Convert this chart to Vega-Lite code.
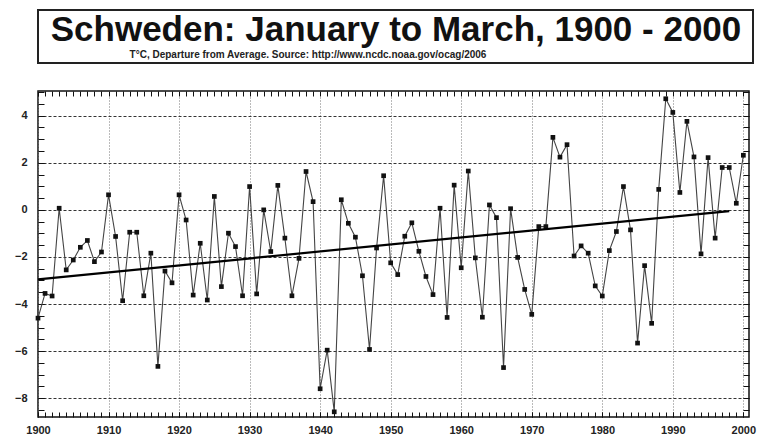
{
  "$schema": "https://vega.github.io/schema/vega-lite/v6.json",
  "background": "white",
  "padding": {"left": 6, "top": 9, "right": 0, "bottom": 0},
  "config": {
    "view": {"stroke": null},
    "axis": {"labelFont": "Liberation Sans", "labelFontWeight": "bold", "labelFontSize": 11, "labelColor": "#222", "tickColor": "#111", "tickWidth": 1, "domain": false}
  },
  "spacing": 25,
  "vconcat": [
    {
      "width": 715,
      "height": 53,
      "view": {"stroke": "#222", "strokeWidth": 2},
      "data": {"values": [{"title": "Schweden: January to March, 1900 - 2000", "subtitle": "T°C, Departure from Average. Source: http://www.ncdc.noaa.gov/ocag/2006"}]},
      "layer": [
        {"mark": {"type": "text", "font": "Liberation Sans", "fontWeight": "bold", "fontSize": 35, "baseline": "alphabetic", "dx": 0.5, "dy": 4.5, "color": "#111"}, "encoding": {"text": {"field": "title"}}},
        {"mark": {"type": "text", "font": "Liberation Sans", "fontWeight": "bold", "fontSize": 10, "baseline": "alphabetic", "dx": -87.5, "dy": 21.5, "color": "#222"}, "encoding": {"text": {"field": "subtitle"}}}
      ]
    },
    {
      "width": 711,
      "height": 326,
      "view": {"stroke": "#111", "strokeWidth": 1.5},
      "layer": [
        {
          "data": {"name": "series"},
          "mark": {"type": "line", "color": "#444", "strokeWidth": 1.1},
          "encoding": {
            "x": {"field": "year", "type": "quantitative", "scale": {"domain": [1900, 2000.8], "nice": false, "zero": false},
              "axis": {"orient": "bottom", "title": null, "values": [1900,1910,1920,1930,1940,1950,1960,1970,1980,1990,2000],
                "format": "d", "labelFlush": false, "labelOverlap": false, "minExtent": 0,
                "tickSize": -5, "labelPadding": 12,
                "grid": true, "gridColor": "#777", "gridDash": [1, 2], "gridWidth": 1}},
            "y": {"field": "value", "type": "quantitative", "scale": {"domain": [-8.8, 5.05], "nice": false, "zero": false},
              "axis": {"orient": "left", "title": null, "values": [-8, -6, -4, -2, 0, 2, 4],
                "format": "d", "labelOverlap": false, "minExtent": 31, "maxExtent": 31,
                "tickSize": -6, "labelPadding": 17,
                "grid": true, "gridColor": "#333", "gridDash": [3, 2], "gridWidth": 1}}
          }
        },
        {
          "data": {"name": "series"},
          "mark": {"type": "square", "color": "#111", "size": 22, "opacity": 1},
          "encoding": {
            "x": {"field": "year", "type": "quantitative", "scale": {"domain": [1900, 2000.8], "nice": false, "zero": false},
              "axis": {"orient": "top", "title": null, "labels": false, "grid": false, "tickSize": -5, "minExtent": 0, "maxExtent": 0, "values": [1900,1901,1902,1903,1904,1905,1906,1907,1908,1909,1910,1911,1912,1913,1914,1915,1916,1917,1918,1919,1920,1921,1922,1923,1924,1925,1926,1927,1928,1929,1930,1931,1932,1933,1934,1935,1936,1937,1938,1939,1940,1941,1942,1943,1944,1945,1946,1947,1948,1949,1950,1951,1952,1953,1954,1955,1956,1957,1958,1959,1960,1961,1962,1963,1964,1965,1966,1967,1968,1969,1970,1971,1972,1973,1974,1975,1976,1977,1978,1979,1980,1981,1982,1983,1984,1985,1986,1987,1988,1989,1990,1991,1992,1993,1994,1995,1996,1997,1998,1999,2000]}},
            "y": {"field": "value", "type": "quantitative", "scale": {"domain": [-8.8, 5.05], "nice": false, "zero": false},
              "axis": {"orient": "right", "title": null, "labels": false, "grid": false, "tickSize": -6, "minExtent": 0, "maxExtent": 0, "values": [-8.5,-8,-7.5,-7,-6.5,-6,-5.5,-5,-4.5,-4,-3.5,-3,-2.5,-2,-1.5,-1,-0.5,0,0.5,1,1.5,2,2.5,3,3.5,4,4.5,5]}}
          }
        },
        {
          "data": {"name": "trend"},
          "mark": {"type": "line", "color": "#000", "strokeWidth": 2.2},
          "encoding": {
            "x": {"field": "year", "type": "quantitative", "scale": {"domain": [1900, 2000.8], "nice": false, "zero": false},
              "axis": {"orient": "bottom", "title": null, "labels": false, "grid": false, "tickSize": -5, "minExtent": 0, "maxExtent": 0, "values": [1900,1901,1902,1903,1904,1905,1906,1907,1908,1909,1910,1911,1912,1913,1914,1915,1916,1917,1918,1919,1920,1921,1922,1923,1924,1925,1926,1927,1928,1929,1930,1931,1932,1933,1934,1935,1936,1937,1938,1939,1940,1941,1942,1943,1944,1945,1946,1947,1948,1949,1950,1951,1952,1953,1954,1955,1956,1957,1958,1959,1960,1961,1962,1963,1964,1965,1966,1967,1968,1969,1970,1971,1972,1973,1974,1975,1976,1977,1978,1979,1980,1981,1982,1983,1984,1985,1986,1987,1988,1989,1990,1991,1992,1993,1994,1995,1996,1997,1998,1999,2000]}},
            "y": {"field": "value", "type": "quantitative", "scale": {"domain": [-8.8, 5.05], "nice": false, "zero": false},
              "axis": {"orient": "left", "title": null, "labels": false, "grid": false, "tickSize": -6, "minExtent": 0, "maxExtent": 0, "values": [-8.5,-8,-7.5,-7,-6.5,-6,-5.5,-5,-4.5,-4,-3.5,-3,-2.5,-2,-1.5,-1,-0.5,0,0.5,1,1.5,2,2.5,3,3.5,4,4.5,5]}}
          }
        }
      ],
      "resolve": {"axis": {"x": "independent", "y": "independent"}}
    }
  ],
  "datasets": {
    "trend": [{"year": 1900, "value": -2.95}, {"year": 1998, "value": -0.05}],
    "series": [
      {"year": 1900, "value": -4.6}, {"year": 1901, "value": -3.55}, {"year": 1902, "value": -3.66}, {"year": 1903, "value": 0.07},
      {"year": 1904, "value": -2.55}, {"year": 1905, "value": -2.13}, {"year": 1906, "value": -1.59}, {"year": 1907, "value": -1.3},
      {"year": 1908, "value": -2.2}, {"year": 1909, "value": -1.79}, {"year": 1910, "value": 0.64}, {"year": 1911, "value": -1.13},
      {"year": 1912, "value": -3.86}, {"year": 1913, "value": -0.95}, {"year": 1914, "value": -0.95}, {"year": 1915, "value": -3.65},
      {"year": 1916, "value": -1.84}, {"year": 1917, "value": -6.65}, {"year": 1918, "value": -2.6}, {"year": 1919, "value": -3.1},
      {"year": 1920, "value": 0.64}, {"year": 1921, "value": -0.43}, {"year": 1922, "value": -3.62}, {"year": 1923, "value": -1.42},
      {"year": 1924, "value": -3.83}, {"year": 1925, "value": 0.57}, {"year": 1926, "value": -3.26}, {"year": 1927, "value": -0.99},
      {"year": 1928, "value": -1.56}, {"year": 1929, "value": -3.65}, {"year": 1930, "value": 0.99}, {"year": 1931, "value": -3.57},
      {"year": 1932, "value": 0.0}, {"year": 1933, "value": -1.77}, {"year": 1934, "value": 1.04}, {"year": 1935, "value": -1.2},
      {"year": 1936, "value": -3.65}, {"year": 1937, "value": -2.06}, {"year": 1938, "value": 1.63}, {"year": 1939, "value": 0.35},
      {"year": 1940, "value": -7.6}, {"year": 1941, "value": -5.96}, {"year": 1942, "value": -8.58}, {"year": 1943, "value": 0.43},
      {"year": 1944, "value": -0.57}, {"year": 1945, "value": -1.16}, {"year": 1946, "value": -2.8}, {"year": 1947, "value": -5.93},
      {"year": 1948, "value": -1.62}, {"year": 1949, "value": 1.45}, {"year": 1950, "value": -2.25}, {"year": 1951, "value": -2.75},
      {"year": 1952, "value": -1.12}, {"year": 1953, "value": -0.55}, {"year": 1954, "value": -1.76}, {"year": 1955, "value": -2.83},
      {"year": 1956, "value": -3.6}, {"year": 1957, "value": 0.07}, {"year": 1958, "value": -4.57}, {"year": 1959, "value": 1.05},
      {"year": 1960, "value": -2.46}, {"year": 1961, "value": 1.65}, {"year": 1962, "value": -2.04}, {"year": 1963, "value": -4.56},
      {"year": 1964, "value": 0.21}, {"year": 1965, "value": -0.33}, {"year": 1966, "value": -6.7}, {"year": 1967, "value": 0.05},
      {"year": 1968, "value": -2.02}, {"year": 1969, "value": -3.38}, {"year": 1970, "value": -4.44}, {"year": 1971, "value": -0.71},
      {"year": 1972, "value": -0.71}, {"year": 1973, "value": 3.08}, {"year": 1974, "value": 2.24}, {"year": 1975, "value": 2.77},
      {"year": 1976, "value": -1.96}, {"year": 1977, "value": -1.53}, {"year": 1978, "value": -1.84}, {"year": 1979, "value": -3.23},
      {"year": 1980, "value": -3.66}, {"year": 1981, "value": -1.73}, {"year": 1982, "value": -0.92}, {"year": 1983, "value": 0.99},
      {"year": 1984, "value": -0.85}, {"year": 1985, "value": -5.66}, {"year": 1986, "value": -2.37}, {"year": 1987, "value": -4.82},
      {"year": 1988, "value": 0.87}, {"year": 1989, "value": 4.72}, {"year": 1990, "value": 4.14}, {"year": 1991, "value": 0.74},
      {"year": 1992, "value": 3.76}, {"year": 1993, "value": 2.25}, {"year": 1994, "value": -1.87}, {"year": 1995, "value": 2.22},
      {"year": 1996, "value": -1.2}, {"year": 1997, "value": 1.8}, {"year": 1998, "value": 1.8}, {"year": 1999, "value": 0.28},
      {"year": 2000, "value": 2.32}
    ]
  }
}
